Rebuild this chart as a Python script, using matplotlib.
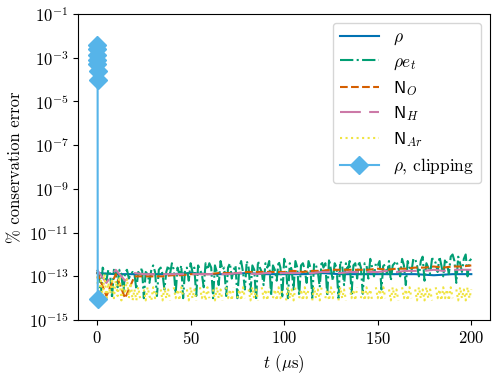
import numpy as np
import matplotlib
matplotlib.use("Agg")
import matplotlib.pyplot as plt

plt.rcParams["font.family"] = "serif"
plt.rcParams["font.serif"] = ["cmr10"]
plt.rcParams["mathtext.fontset"] = "cm"
plt.rcParams["axes.formatter.use_mathtext"] = True
plt.rcParams["font.size"] = 12

# log10 of % conservation error (None = no value drawn)
t_fine = np.arange(0, 201, 1)   # sampling grid of the noisy series (us)
t_mid = np.arange(0, 201, 5)
t_coarse = np.arange(0, 201, 10)

rho_et = [-12.7, -12.9, -13.9, -12.6, -12.8, -13.2, -12.7, -12.9, -14.0, -12.7,
          -12.8, -13.5, -12.7, -12.9, -13.8, -12.8, -12.7, -13.1, -12.9, -12.8,
          -12.9, -13.6, -12.8, -12.9, -12.6, -14.0, -12.8, -12.9, -13.3, -12.7,
          -12.5, -12.8, -13.9, -12.7, -12.6, -12.9, -13.6, -12.8, -12.5, -12.9,
          -12.4, -12.7, -13.8, -12.6, -12.9, -12.5, -14.0, -12.7, -12.6, -13.2,
          -12.4, -12.8, -12.6, -13.9, -12.5, -12.7, -12.9, -13.5, -12.4, -12.7,
          -12.4, -12.6, -14.0, -12.5, -12.8, -13.4, -12.3, -12.7, -12.6, -13.9,
          -12.6, -12.4, -13.1, -12.7, -12.5, -14.0, -12.6, -12.3, -12.8, -13.6,
          -12.3, -12.6, -13.7, -12.5, -12.7, -14.1, -12.3, -12.6, -12.8, -13.4,
          -12.4, -12.6, -12.3, -13.9, -12.5, -12.7, -13.2, -12.3, -12.6, -14.0,
          -12.2, -12.5, -14.0, -12.4, -12.7, -13.6, -12.3, -12.6, -13.9, -12.5,
          -12.4, -12.7, -13.3, -12.3, -12.6, -14.0, -12.4, -12.5, -12.8, -13.5,
          -12.3, -12.6, -12.4, -13.9, -12.2, -12.7, -13.2, -12.4, -12.6, -14.0,
          -12.3, -12.5, -13.4, -12.4, -12.7, -12.3, -13.8, -12.5, -12.4, -13.1,
          -12.3, -12.6, -13.8, -12.4, -12.5, -13.1, -12.2, -12.6, -13.0, -12.4,
          -12.5, -12.3, -13.6, -12.4, -12.6, -12.9, -12.3, -13.2, -12.5, -12.4,
          -12.3, -12.6, -13.0, -12.2, -12.5, -13.4, -12.3, -12.6, -12.8, -12.2,
          -12.2, -12.5, -13.0, -12.3, -12.1, -13.2, -12.4, -12.6, -12.9, -12.2,
          -12.2, -12.4, -12.8, -12.1, -12.5, -13.0, -12.2, -12.4, -12.9, -12.1,
          -12.0, -12.3, -13.3, -12.1, -12.4, -12.8, -12.2, -12.0, -13.0, -12.3,
          -12.2]

n_ar = [-13.0, -14.0, -13.2, -13.9, -12.9, -14.1, -13.3, -13.8, -13.1, -14.0,
        -13.2, -13.9, -13.0, -14.1, -13.4, -13.8, -13.1, -14.0, -13.3, -14.1,
        -13.6, -14.1, -13.5, -14.0, None, -13.6, -14.1, -13.5, -13.9, -14.1,
        -13.5, -14.0, -13.7, None, -13.6, -14.1, -13.5, -14.0, -13.6, -14.1,
        None, -13.5, -14.0, -13.6, -14.1, -13.5, -13.9, None, -13.6, -14.1,
        -13.5, -14.0, -13.6, -14.1, None, -13.5, -14.0, -13.7, -14.1, -13.5,
        -14.0, None, -13.6, -14.1, -13.5, -14.0, -13.6, -14.1, None, -13.5,
        -14.0, -13.6, -14.1, -13.5, None, -14.0, -13.6, -14.1, -13.5, -14.0,
        None, -13.6, -14.1, -13.5, -14.0, -13.6, -14.1, None, -13.5, -14.0,
        -13.6, -14.1, -13.5, None, -14.0, -13.6, -14.1, -13.5, -14.0, -13.6,
        None, -14.1, -13.5, -14.0, -13.6, -14.1, -13.5, None, -14.0, -13.6,
        -14.1, -13.5, -14.0, -13.6, None, -14.1, -13.5, -14.0, -13.6, -14.1,
        -13.5, None, -14.0, -13.6, -14.1, -13.5, -14.0, -13.6, None, -14.1,
        -13.5, -14.0, -13.6, -14.1, None, -13.5, -14.0, -13.6, -14.1, -13.5,
        None, -14.0, -13.6, -14.1, -13.5, -14.0, -13.6, -14.1, None, -13.5,
        -14.0, -13.6, -14.1, -13.5, -14.0, None, -13.6, -14.1, -13.5, -14.0,
        -13.6, -14.1, None, -13.5, -14.0, -13.6, -14.1, -13.5, -14.0, None,
        -13.6, -14.1, -13.5, -14.0, -13.6, -14.1, -13.5, -14.0, -13.6, -14.1,
        None, -13.5, -14.0, -13.6, -14.1, -13.5, -14.0, -13.6, -14.1, -13.5,
        -14.0, None, -13.6, -14.1, -13.5, -14.0, -13.6, -14.1, -13.5, -14.0,
        -13.6]

n_o = [-12.8, -13.9, -12.9, -14.0, -13.0, -13.0, -13.0, -13.0, -12.95, -12.95,
       -12.9, -12.9, -12.9, -12.85, -12.85, -12.85, -12.8, -12.8, -12.8, -12.8,
       -12.8, -12.75, -12.8, -12.75, -12.75, -12.7, -12.7, -12.7, -12.7, -12.7,
       -12.65, -12.7, -12.65, -12.65, -12.6, -12.6, -12.55, -12.6, -12.55, -12.55,
       -12.5]

n_h = [-12.7, -13.3, -12.7, -13.2, -12.85, -12.9, -12.9, -12.9, -12.9, -12.9,
       -12.9, -12.9, -12.9, -12.9, -12.9, -12.85, -12.85, -12.9, -12.85, -12.85,
       -12.85, -12.85, -12.85, -12.85, -12.8, -12.8, -12.85, -12.8, -12.8, -12.8,
       -12.8, -12.75, -12.8, -12.75, -12.75, -12.75, -12.7, -12.75, -12.7, -12.7,
       -12.7]

rho = [-12.85, -12.9, -12.9, -12.9, -12.9, -12.85, -12.9, -12.9, -12.85, -12.9,
       -12.9, -12.9, -12.85, -12.9, -12.9, -12.9, -12.9, -12.9, -12.95, -12.9,
       -12.9]

t_clip = [0.0, 0.05, 0.1, 0.15, 0.2, 0.25, 0.3, 0.35]
rho_clip = [-2.4, -2.6, -2.9, -3.1, -3.3, -3.6, -4.0, -14.05]


def pw(v):
    return np.power(10.0, np.array([np.nan if x is None else x for x in v]))


fig = plt.figure(figsize=(4.99, 3.77), dpi=100)
ax = fig.add_axes([0.157, 0.151, 0.825, 0.812])

ax.plot(t_coarse, pw(rho), color="#0072B2", lw=1.5, label=r"$\rho$")
ax.plot(t_fine, pw(rho_et), color="#009E73", lw=1.5, ls="-.", label=r"$\rho e_t$")
ax.plot(t_mid, pw(n_o), color="#D55E00", lw=1.5, ls="--", label=r"$\mathsf{N}_O$")
ax.plot(t_mid, pw(n_h), color="#CC79A7", lw=1.5, ls=(0, (10, 4)), label=r"$\mathsf{N}_H$")
ax.plot(t_fine, pw(n_ar), color="#F0E442", lw=1.5, ls=":", label=r"$\mathsf{N}_{Ar}$")
ax.plot(t_clip, pw(rho_clip), color="#56B4E9", lw=1.5, marker="D", ms=9,
        label=r"$\rho$, clipping")

ax.set_yscale("log")
ax.set_ylim(1e-15, 1e-1)
ax.set_xlim(-10, 210)
ax.set_yticks([10.0 ** k for k in range(-15, 0, 2)])
ax.yaxis.set_minor_locator(matplotlib.ticker.NullLocator())
ax.set_xlabel(r"$t$ ($\mu$s)")
ax.set_ylabel("% conservation error")
ax.legend(loc="upper right", fontsize=12.5, handlelength=2.3, labelspacing=0.4)

fig.savefig("out.png", dpi=100)
